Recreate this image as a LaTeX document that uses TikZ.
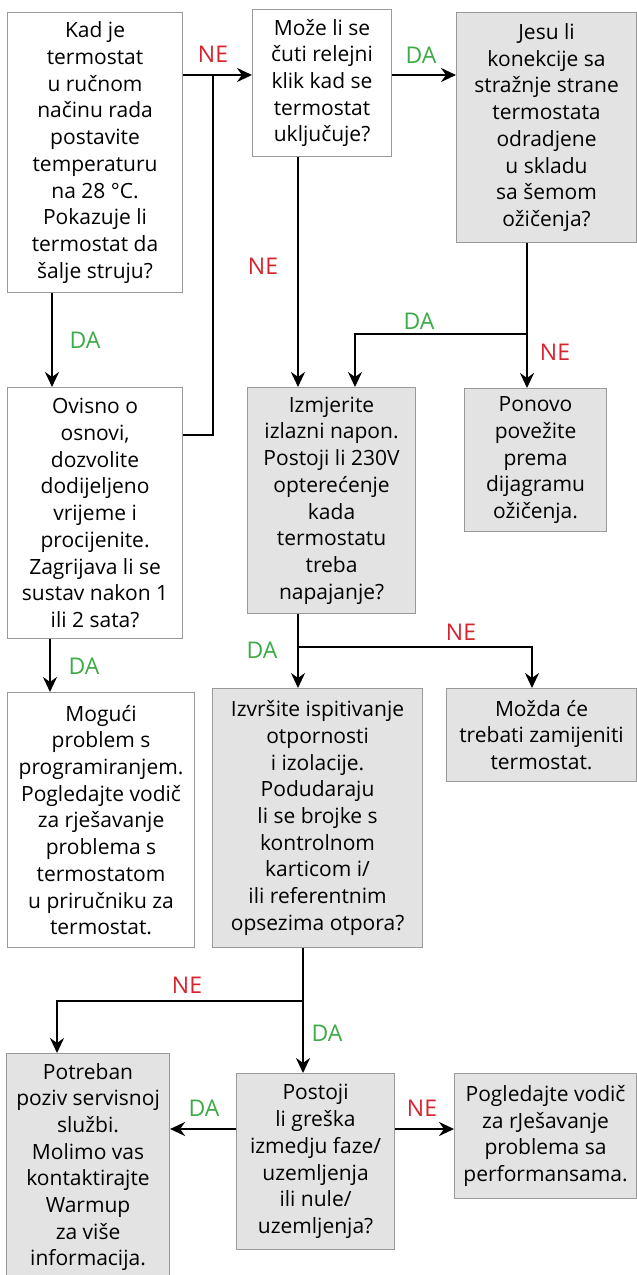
\documentclass[tikz,border=0pt]{standalone}
\usepackage{fontspec}
\setmainfont{Open Sans}
\usetikzlibrary{arrows.meta}
\definecolor{edge}{gray}{0.60}
\definecolor{shade}{gray}{0.89}
\definecolor{yes}{RGB}{60,170,70}
\definecolor{no}{RGB}{215,35,45}

\begin{document}
\begin{tikzpicture}[
  x=1pt, y=-1pt,
  box/.style={draw=edge, fill=white, line width=1.1pt, anchor=north west,
              align=center, inner sep=0pt,
              font=\fontsize{21}{26.7}\selectfont},
  grey/.style={box, fill=shade},
  conn/.style={line width=2.8pt},
  arr/.style={conn, -{Stealth[length=15pt, width=14pt, inset=5pt]}},
  da/.style={text=yes, font=\fontsize{23}{28}\selectfont, inner sep=0pt},
  ne/.style={text=no, font=\fontsize{23}{28}\selectfont, inner sep=0pt},
]
\useasboundingbox (0,0) rectangle (637,1275);

% top row
\node[box, minimum width=175pt, minimum height=280pt] (start) at (7,12)
  {Kad je\\termostat\\u ručnom\\načinu rada\\postavite\\temperaturu\\na 28 °C.\\Pokazuje li\\termostat da\\šalje struju?};
\node[box, minimum width=139pt, minimum height=147pt] (relay) at (252,9)
  {Može li se\\čuti relejni\\klik kad se\\termostat\\uključuje?};
\node[grey, minimum width=180pt, minimum height=230pt] (wiring) at (456,12)
  {Jesu li\\konekcije sa\\stražnje strane\\termostata\\odradjene\\u skladu\\sa šemom\\ožičenja?};

% second row
\node[box, minimum width=175pt, minimum height=251pt] (wait) at (7,387)
  {Ovisno o\\osnovi,\\dozvolite\\dodijeljeno\\vrijeme i\\procijenite.\\Zagrijava li se\\sustav nakon 1\\ili 2 sata?};
\node[grey, minimum width=168pt, minimum height=226pt] (voltage) at (247,387)
  {Izmjerite\\izlazni napon.\\Postoji li 230V\\opterećenje\\kada\\termostatu\\treba\\napajanje?};
\node[grey, minimum width=142pt, minimum height=143pt] (rewire) at (464,388)
  {Ponovo\\povežite\\prema\\dijagramu\\ožičenja.};

% third row
\node[box, minimum width=187pt, minimum height=255pt] (prog) at (7,692)
  {Mogući\\problem s\\programiranjem.\\Pogledajte vodič\\za rješavanje\\problema s\\termostatom\\u priručniku za\\termostat.};
\node[grey, minimum width=210pt, minimum height=259pt] (insul) at (212,688)
  {Izvršite ispitivanje\\otpornosti\\i izolacije.\\Podudaraju\\li se brojke s\\kontrolnom\\karticom i/\\ili referentnim\\opsezima otpora?};
\node[grey, minimum width=190pt, minimum height=93pt] (replace) at (446,688)
  {Možda će\\trebati zamijeniti\\termostat.};

% bottom row
\node[grey, minimum width=163pt, minimum height=227pt] (service) at (6,1053)
  {Potreban\\poziv servisnoj\\službi.\\Molimo vas\\kontaktirajte\\Warmup\\za više\\informacija.};
\node[grey, minimum width=158pt, minimum height=176pt] (fault) at (236,1073)
  {Postoji\\li greška\\izmedju faze/\\uzemljenja\\ili nule/\\uzemljenja?};
\node[grey, minimum width=182pt, minimum height=125pt] (perf) at (454,1073)
  {Pogledajte vodič\\za rJešavanje\\problema sa\\performansama.};

% connectors
\coordinate (jTop) at (213,75);
\coordinate (jWait) at (213,435);
\draw[arr] (start.east |- jTop) -- (relay.west |- jTop);
\draw[conn] (wait.east |- jWait) -- (jWait) -- (jTop);
\draw[arr] (relay.east |- jTop) -- (wiring.west |- jTop);

\coordinate (xA) at (52,0);
\draw[arr] (start.south -| xA) -- (wait.north -| xA);
\coordinate (xB) at (298,0);
\draw[arr] (relay.south -| xB) -- (voltage.north -| xB);

\coordinate (jWire) at (527,334);
\coordinate (xE) at (355,0);
\draw[conn] (wiring.south -| jWire) -- (jWire);
\draw[arr] (jWire) -| (voltage.north -| xE);
\draw[arr] (jWire) -- (rewire.north -| jWire);

\coordinate (xC) at (50,0);
\draw[arr] (wait.south -| xC) -- (prog.north -| xC);

\coordinate (jVolt) at (298,647);
\coordinate (xI) at (532,0);
\draw[conn] (voltage.south -| jVolt) -- (jVolt);
\draw[arr] (jVolt) -- (insul.north -| jVolt);
\draw[arr] (jVolt) -| (replace.north -| xI);

\coordinate (jIns) at (303,1001);
\coordinate (xJ) at (57,0);
\draw[conn] (insul.south -| jIns) -- (jIns);
\draw[arr] (jIns) -- (fault.north -| jIns);
\draw[arr] (jIns) -| (service.north -| xJ);

\coordinate (yK) at (0,1129);
\draw[arr] (fault.west |- yK) -- (service.east |- yK);
\draw[arr] (fault.east |- yK) -- (perf.west |- yK);

% answers
\node[ne] (neTop) at (213,54) {NE};
\node[da] (daTop) at (421,55) {DA};
\node[ne] (neRelay) at (263,266) {NE};
\node[da] (daStart) at (85,340) {DA};
\node[da] (daWire) at (419,321) {DA};
\node[ne] (neWire) at (555,352) {NE};
\node[da] (daWait) at (84,666) {DA};
\node[da] (daVolt) at (262,650) {DA};
\node[ne] (neVolt) at (461,632) {NE};
\node[ne] (neIns) at (187,985) {NE};
\node[da] (daIns) at (327,1033) {DA};
\node[da] (daFault) at (204,1108) {DA};
\node[ne] (neFault) at (422,1108) {NE};
\end{tikzpicture}
\end{document}
